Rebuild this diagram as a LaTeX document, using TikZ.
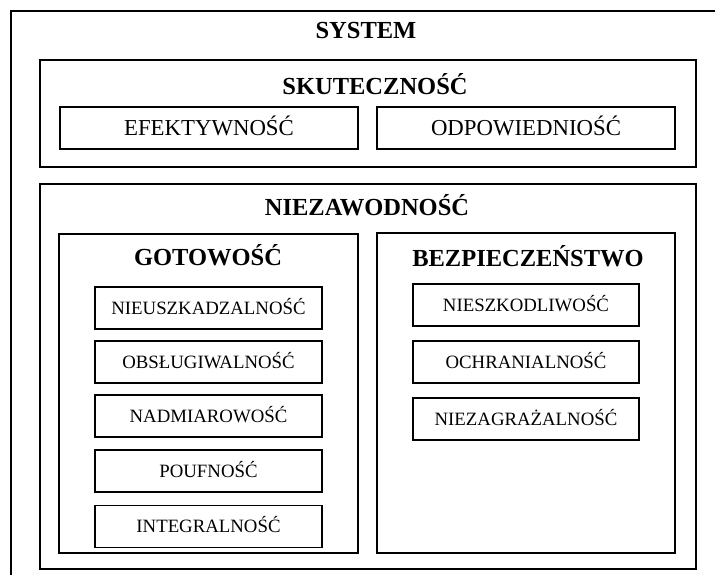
\documentclass[tikz,border=0pt]{standalone}
\usepackage{fontspec}
\setmainfont{Liberation Serif}
\begin{document}
\begin{tikzpicture}[x=1pt,y=-1pt,
  frame/.style={draw, line width=1.6pt, inner sep=0pt},
  group/.style={frame},
  bigitem/.style={frame, minimum width=298pt, minimum height=42pt,
    font=\fontsize{22.8}{26}\selectfont, text height=15pt, text depth=0pt},
  smallitem/.style={frame, minimum height=42pt,
    font=\fontsize{18.8}{22}\selectfont, text height=12.4pt, text depth=0pt},
  title/.style={anchor=base, inner sep=0pt, font=\fontsize{24.5}{28}\selectfont\bfseries}]
\useasboundingbox (0,0) rectangle (715,574);
\clip (0,0) rectangle (715,574);
\fill[white] (0,0) rectangle (715,574);

% outer system frame, running past the right and bottom edges
\draw[line width=1.6pt] (760,11) -- (11,11) -- (11,620);
\node[title] (system) at (366,38) {SYSTEM};

% effectiveness group
\node[group, minimum width=656pt, minimum height=107pt] (skut) at (368,113.5) {};
\node[title] (skutT) at (375,94) {SKUTECZNOŚĆ};
\node[bigitem] (efek) at (209,128) {EFEKTYWNOŚĆ};
\node[bigitem] (odpo) at (526,128) {ODPOWIEDNIOŚĆ};

% reliability group
\node[group, minimum width=656pt, minimum height=385pt] (niez) at (368,376.5) {};
\node[title] (niezT) at (367,215) {NIEZAWODNOŚĆ};

% readiness
\node[group, minimum width=299pt, minimum height=319pt] (goto) at (208.5,393.5) {};
\node[title] (gotoT) at (208,265) {GOTOWOŚĆ};
\node[smallitem, minimum width=227pt] (g1) at (208.5,308) {NIEUSZKADZALNOŚĆ};
\node[smallitem, minimum width=227pt] (g2) at (208.5,362) {OBSŁUGIWALNOŚĆ};
\node[smallitem, minimum width=227pt] (g3) at (208.5,416) {NADMIAROWOŚĆ};
\node[smallitem, minimum width=227pt] (g4) at (208.5,471) {POUFNOŚĆ};
\node[smallitem, minimum width=227pt] (g5) at (208.5,526.5) {INTEGRALNOŚĆ};

% safety
\node[group, minimum width=298pt, minimum height=320pt] (bezp) at (526,393) {};
\node[title] (bezpT) at (528,266) {BEZPIECZEŃSTWO};
\node[smallitem, minimum width=226pt] (b1) at (526,305) {NIESZKODLIWOŚĆ};
\node[smallitem, minimum width=226pt] (b2) at (526,362) {OCHRANIALNOŚĆ};
\node[smallitem, minimum width=226pt] (b3) at (526,419) {NIEZAGRAŻALNOŚĆ};
\end{tikzpicture}
\end{document}
